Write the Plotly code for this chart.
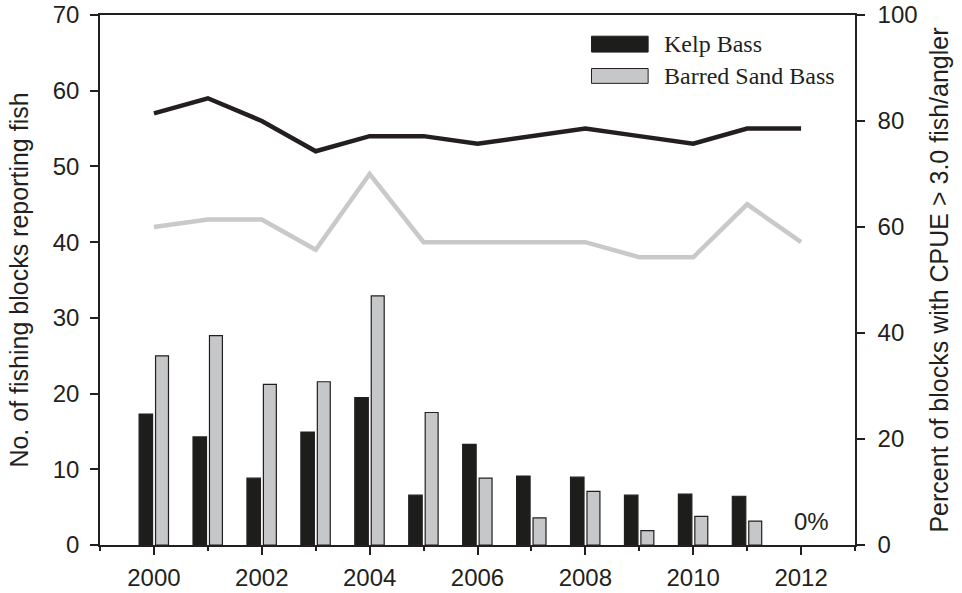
import plotly.graph_objects as go

years = list(range(2000, 2013))
kelp_pct = [24.7, 20.4, 12.6, 21.3, 27.8, 9.4, 19.0, 13.0, 12.8, 9.4, 9.6, 9.2, 0]
sand_pct = [35.7, 39.5, 30.3, 30.8, 47.0, 25.0, 12.6, 5.1, 10.1, 2.7, 5.4, 4.5, 0]
kelp_blocks = [57, 59, 56, 52, 54, 54, 53, 54, 55, 54, 53, 55, 55]
sand_blocks = [42, 43, 43, 39, 49, 40, 40, 40, 40, 38, 38, 45, 40]
x_ticks = [2000, 2002, 2004, 2006, 2008, 2010, 2012]

DARK = "#231f20"
GREY_FILL = "#c6c7c9"
GREY_LINE = "#c8c9cb"
SANS = "Liberation Sans, Arial, sans-serif"
SERIF = "Liberation Serif, Times New Roman, serif"

fig = go.Figure()

fig.add_trace(go.Scatter(x=years, y=kelp_blocks, mode="lines", name="Kelp Bass blocks",
                         line=dict(color=DARK, width=4.5), yaxis="y", showlegend=False))
fig.add_trace(go.Scatter(x=years, y=sand_blocks, mode="lines", name="Barred Sand Bass blocks",
                         line=dict(color=GREY_LINE, width=4.5), yaxis="y", showlegend=False))

kelp_lw = [1.2 if v > 0 else 0 for v in kelp_pct]
sand_lw = [1.2 if v > 0 else 0 for v in sand_pct]

fig.add_trace(go.Bar(x=years, y=kelp_pct, name="Kelp Bass", yaxis="y2",
                     width=0.25, offset=-0.275,
                     marker=dict(color="#1d1d1b", line=dict(color=DARK, width=kelp_lw)),
                     showlegend=False))
fig.add_trace(go.Bar(x=years, y=sand_pct, name="Barred Sand Bass", yaxis="y2",
                     width=0.24, offset=0.03,
                     marker=dict(color=GREY_FILL, line=dict(color=DARK, width=sand_lw)),
                     showlegend=False))

axis_font = dict(family=SANS, size=24, color=DARK)
title_font = dict(family=SANS, size=25, color=DARK)

fig.update_layout(
    width=962, height=593,
    margin=dict(l=100, r=107, t=15, b=48),
    plot_bgcolor="white", paper_bgcolor="white",
    barmode="overlay",
    xaxis=dict(range=[1999, 2013], tickvals=x_ticks, ticktext=[str(v) for v in x_ticks],
               ticks="outside", ticklen=8, tickwidth=1.5, tickcolor=DARK,
               minor=dict(dtick=1, tick0=1999, ticks="outside", ticklen=4, tickwidth=1.5, tickcolor=DARK),
               showline=True, linecolor=DARK, linewidth=1.5, mirror=True,
               showgrid=False, zeroline=False, tickfont=axis_font, automargin=False,
               ticklabelstandoff=2, ticklabeloverflow="allow"),
    yaxis=dict(range=[0, 70], dtick=10, ticks="outside", ticklen=8, tickwidth=1.5, tickcolor=DARK,
               showline=True, linecolor=DARK, linewidth=1.5,
               showgrid=False, zeroline=False, tickfont=axis_font, automargin=False,
               ticklabelstandoff=6, ticklabeloverflow="allow",
               title=dict(text="No. of fishing blocks reporting fish", font=title_font, standoff=17)),
    yaxis2=dict(range=[0, 100], dtick=20, overlaying="y", side="right",
                ticks="outside", ticklen=8, tickwidth=1.5, tickcolor=DARK,
                showline=True, linecolor=DARK, linewidth=1.5,
                showgrid=False, zeroline=False, tickfont=axis_font, automargin=False,
                ticklabelstandoff=8, ticklabeloverflow="allow",
                title=dict(text="Percent of blocks with CPUE > 3.0 fish/angler", font=title_font, standoff=14)),
)

# 0% label
fig.add_annotation(text="0%", xref="x", yref="y2", x=2012.2, y=4.4, showarrow=False,
                   xanchor="center", yanchor="middle", font=dict(family=SANS, size=24, color=DARK))

# Custom legend
fig.add_shape(type="rect", xref="paper", yref="paper", x0=0.651, x1=0.726, y0=0.930, y1=0.960,
              fillcolor="#1d1d1b", line=dict(color=DARK, width=1))
fig.add_shape(type="rect", xref="paper", yref="paper", x0=0.651, x1=0.726, y0=0.871, y1=0.899,
              fillcolor=GREY_FILL, line=dict(color=DARK, width=1))
fig.add_annotation(text="Kelp Bass", xref="paper", yref="paper", x=0.744, y=0.945,
                   showarrow=False, xanchor="left", yanchor="middle",
                   font=dict(family=SERIF, size=24, color=DARK))
fig.add_annotation(text="Barred Sand Bass", xref="paper", yref="paper", x=0.744, y=0.885,
                   showarrow=False, xanchor="left", yanchor="middle",
                   font=dict(family=SERIF, size=24, color=DARK))

# Remove the default 8px page margin so the figure fills the window exactly.
fig.write_html("out.html", config={"displayModeBar": False},
               post_script="document.body.style.margin='0px';")
